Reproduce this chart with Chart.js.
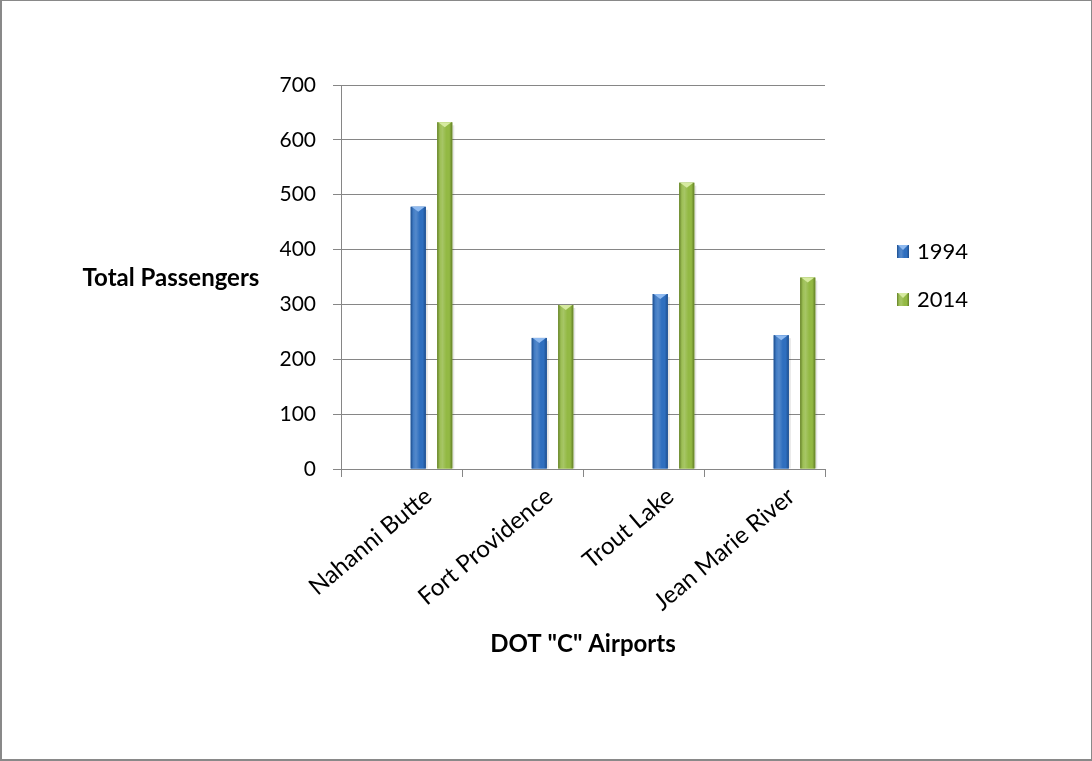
<!DOCTYPE html>
<html>
<head>
<meta charset="utf-8">
<title>Total Passengers – DOT "C" Airports</title>
<script src="https://cdn.jsdelivr.net/npm/chart.js@4/dist/chart.umd.min.js"></script>
<style>
  html, body { margin: 0; padding: 0; background: #ffffff; }
  canvas { display: block; }
</style>
</head>
<body>
<canvas id="chart" width="1092" height="761"></canvas>
<script>
// Passenger counts per airport
const airports = ['Nahanni Butte', 'Fort Providence', 'Trout Lake', 'Jean Marie River'];
const seriesLabels = ['1994', '2014'];
const passengers1994 = [478, 239, 319, 244];
const passengers2014 = [632, 299, 522, 349];
const yTicks = { min: 0, max: 700, step: 100 };

const FONT = 'Lato, "Open Sans", "DejaVu Sans", sans-serif';
const GRID = '#868686';
const palette = [
  { body: '#2f6fbf', dark: '#1d4d8c', light: '#8fbaf0' },
  { body: '#93b944', dark: '#637f27', light: '#d6eaa0' }
];
const BAR_SHIFT = 30;   // clustered bars sit right of the category centre

function shadeBar(ctx, left, right, top, bottom, col) {
  const w = right - left;
  if (bottom - top < 1) return;
  const g = ctx.createLinearGradient(left, 0, right, 0);
  g.addColorStop(0, col.dark);
  g.addColorStop(0.18, col.body);
  g.addColorStop(0.45, col.body);
  g.addColorStop(0.8, col.body);
  g.addColorStop(1, col.dark);
  ctx.fillStyle = g;
  ctx.fillRect(left, top, w, bottom - top);
  // soft highlight down the left-centre
  const h = ctx.createLinearGradient(left, 0, right, 0);
  h.addColorStop(0, 'rgba(255,255,255,0)');
  h.addColorStop(0.35, 'rgba(255,255,255,0.18)');
  h.addColorStop(0.6, 'rgba(255,255,255,0)');
  ctx.fillStyle = h;
  ctx.fillRect(left, top, w, bottom - top);
  // bevelled top
  ctx.fillStyle = col.light;
  ctx.beginPath();
  ctx.moveTo(left + 1, top);
  ctx.lineTo(right - 1, top);
  ctx.lineTo(left + w / 2, top + 5);
  ctx.closePath();
  ctx.fill();
}

const barLook = {
  id: 'barLook',
  beforeDatasetsDraw(chart) {
    const ctx = chart.ctx;
    ctx.save();
    ctx.translate(BAR_SHIFT, 0);
  },
  afterDatasetsDraw(chart) {
    const ctx = chart.ctx;
    chart.data.datasets.forEach((ds, di) => {
      const meta = chart.getDatasetMeta(di);
      meta.data.forEach(bar => {
        const p = bar.getProps(['x', 'y', 'base', 'width'], true);
        const left = p.x - p.width / 2, right = p.x + p.width / 2;
        // faint drop shadow on the right
        ctx.fillStyle = 'rgba(0,0,0,0.10)';
        ctx.fillRect(right, p.y + 3, 2, p.base - p.y - 3);
        shadeBar(ctx, left, right, p.y, p.base, palette[di]);
      });
    });
    ctx.restore();
  }
};

const frameAndText = {
  id: 'frameAndText',
  afterDraw(chart) {
    const ctx = chart.ctx;
    const area = chart.chartArea;
    ctx.save();
    // outer frame
    ctx.fillStyle = '#898989';
    ctx.fillRect(0, 0, chart.width, 1);
    ctx.fillRect(0, 0, 2, chart.height);
    ctx.fillRect(0, chart.height - 2, chart.width, 2);
    ctx.fillRect(chart.width - 1, 0, 1, chart.height);

    // axis titles
    ctx.fillStyle = '#000000';
    ctx.font = 'bold 24px ' + FONT;
    ctx.textBaseline = 'middle';
    ctx.textAlign = 'center';
    ctx.fillText('Total Passengers', 171, 278);
    ctx.fillText('DOT "C" Airports', (area.left + area.right) / 2, 644);

    // legend
    ctx.textAlign = 'left';
    ctx.font = '22px ' + FONT;
    const legendY = [251, 299];
    chart.data.datasets.forEach((ds, i) => {
      const y = legendY[i];
      shadeBar(ctx, 897, 909, y - 6, y + 7, palette[i]);
      ctx.fillStyle = '#000000';
      ctx.fillText(ds.label, 917, y + 1);
    });
    ctx.restore();
  }
};

new Chart(document.getElementById('chart'), {
  type: 'bar',
  data: {
    labels: airports,
    datasets: [
      { label: seriesLabels[0], data: passengers1994, backgroundColor: palette[0].body },
      { label: seriesLabels[1], data: passengers2014, backgroundColor: palette[1].body }
    ]
  },
  options: {
    responsive: false,
    animation: false,
    events: [],
    categoryPercentage: 0.438,
    barPercentage: 0.57,
    layout: { padding: { top: 85, right: 267, left: 0, bottom: 0 } },
    plugins: {
      legend: { display: false },
      tooltip: { enabled: false },
      title: { display: false }
    },
    scales: {
      x: {
        offset: true,
        afterFit(scale) { scale.height = 761 - 469; },
        grid: {
          offset: true,
          drawOnChartArea: false,
          drawTicks: true,
          tickLength: 8,
          color: GRID,
          lineWidth: 1
        },
        border: { color: GRID, width: 1 },
        ticks: {
          color: '#000000',
          font: { family: FONT, size: 24 },
          minRotation: 40,
          maxRotation: 40,
          labelOffset: 27,
          padding: 5,
          autoSkip: false
        }
      },
      y: {
        min: yTicks.min,
        max: yTicks.max,
        afterFit(scale) { scale.width = 341; },
        grid: {
          color: GRID,
          lineWidth: 1,
          drawTicks: true,
          tickLength: 8
        },
        border: { color: GRID, width: 1 },
        ticks: {
          stepSize: yTicks.step,
          color: '#000000',
          font: { family: FONT, size: 21 },
          padding: 17
        }
      }
    }
  },
  plugins: [barLook, frameAndText]
});
</script>
</body>
</html>
